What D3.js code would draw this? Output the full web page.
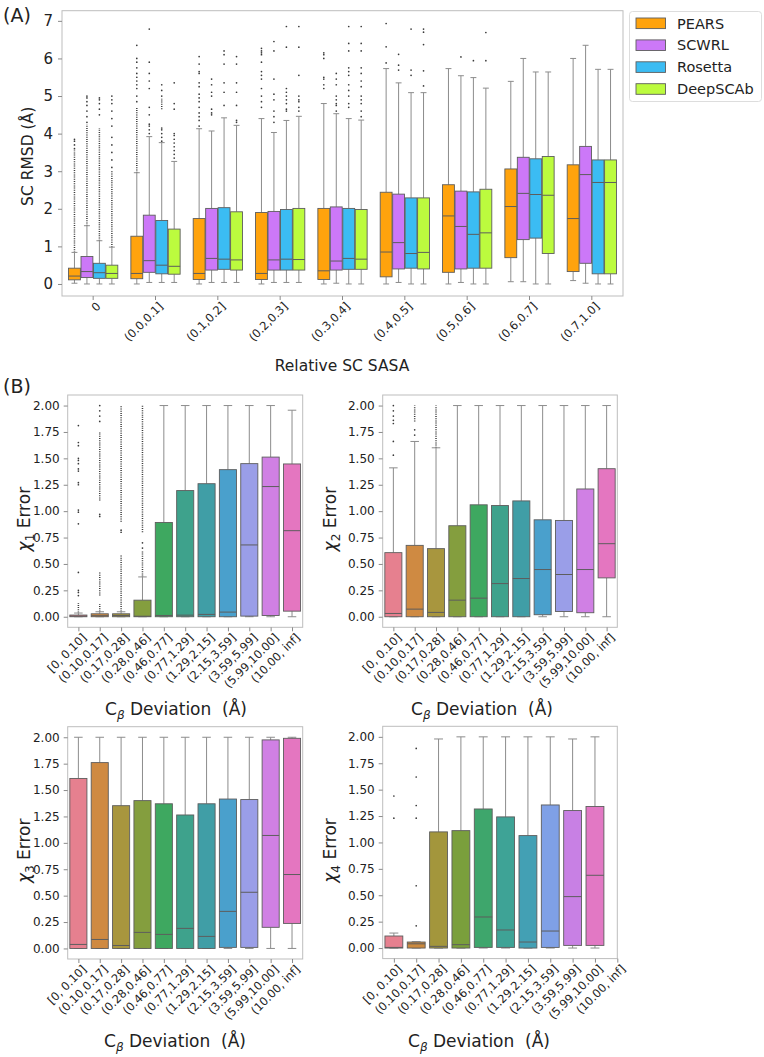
<!DOCTYPE html>
<html><head><meta charset="utf-8">
<script src="https://cdn.jsdelivr.net/npm/d3@7"></script>
<style>
body{margin:0;background:#fff;}
svg{font-family:"DejaVu Sans",sans-serif;}
text{white-space:pre;}
</style></head>
<body><svg id="c" width="764" height="1057"></svg>
<script>
// ---------------- Panel A data ----------------
const sasaCats = ["0","(0.0,0.1]","(0.1,0.2]","(0.2,0.3]","(0.3,0.4]","(0.4,0.5]","(0.5,0.6]","(0.6,0.7]","(0.7,1.0]"];
const methods = ["PEARS","SCWRL","Rosetta","DeepSCAb"];
const methodColors = ["#ffa30d","#cc78f8","#3bbcf3","#bcfb3e"];
const yTicksA = [0,1,2,3,4,5,6,7];
// [lowWhisker, q1, median, q3, highWhisker]
const pearsStats = [[0.02,0.11,0.21,0.42,0.84],[0,0.14,0.28,1.27,2.96],[0,0.12,0.28,1.74,4.13],[0,0.12,0.28,1.90,4.40],[0,0.12,0.35,2.01,4.80],[0,0.19,0.85,2.44,5.73],[0,0.31,1.81,2.64,5.73],[0.06,0.70,2.06,3.06,5.39],[0.09,0.33,1.74,3.17,6.00]];
const scwrlStats = [[0,0.17,0.33,0.73,1.55],[0.04,0.31,0.62,1.83,3.92],[0.04,0.37,0.68,2.01,4.07],[0.04,0.37,0.64,1.93,4.03],[0.02,0.37,0.61,2.05,4.53],[0.04,0.40,1.10,2.39,5.35],[0.04,0.40,1.53,2.47,5.54],[0.06,1.18,2.41,3.37,6.00],[0.02,0.55,2.91,3.66,6.35]];
const rosettaStats = [[0,0.15,0.30,0.55,1.15],[0.04,0.27,0.50,1.69,3.76],[0.04,0.39,0.66,2.03,4.42],[0.04,0.37,0.66,1.98,4.35],[0,0.39,0.68,2.01,4.40],[0,0.42,0.81,2.29,5.09],[0,0.42,1.32,2.45,5.49],[0,1.22,2.38,3.33,5.64],[0,0.27,2.70,3.30,5.71]];
const deepscabStats = [[0,0.15,0.28,0.50,0.98],[0.04,0.26,0.47,1.46,3.26],[0.04,0.37,0.64,1.92,4.22],[0.04,0.37,0.65,2.01,4.46],[0,0.39,0.66,1.98,4.36],[0,0.40,0.84,2.29,5.09],[0,0.42,1.36,2.52,5.21],[0,0.81,2.36,3.39,5.64],[0,0.27,2.70,3.30,5.71]];
// individual outliers
const pearsFliers = [[3.6,3.7,3.8,3.85],[4.85,5.0,5.2,5.3,5.4,5.5,5.6,5.75,5.9,6.0,6.35],[4.2,4.35,4.45,4.55,4.7,4.85,4.95,5.05,5.25,5.35,5.6,5.65,5.85,6.05],[4.7,4.85,5.0,5.2,5.45,5.55,5.65,5.9,6.1,6.15,6.2,6.27],[5.2,5.3,5.45,5.5,6.0,6.1,6.15],[5.88,6.31,6.93],[],[],[]];
const scwrlFliers = [[4.3,4.45,4.6,4.75,4.85,4.95,5.0],[4.0,4.1,4.2,4.25,4.5,4.7,5.2,5.4,5.6,5.9,6.78],[4.5,4.55,4.65,5.0,5.1,5.3,5.45],[4.3,4.45,4.6,4.9,5.05,5.45,6.2,6.45],[4.6,4.75,4.8,4.9,5.0,5.3,5.45,5.6],[5.69,5.82,6.11],[6.04],[],[]];
const rosettaFliers = [[4.5,4.65,4.8,4.9,4.95],[3.8,3.9,4.0,4.1,4.15,5.0,5.15,5.3],[4.75,5.1,5.35,5.85,6.1,6.2],[4.6,4.65,4.8,4.9,5.0,5.1,5.2,6.3,6.85],[4.7,4.8,5.0,5.15,5.3,5.55,5.65,5.75,6.2,6.4,6.85],[5.55,5.69,6.78],[5.94],[],[]];
const deepscabFliers = [[3.1,3.3,3.5,3.7,3.9,4.2,4.4,4.6,4.8,4.9,5.0],[3.35,3.45,3.55,3.65,3.75,3.85,3.95,4.0,4.65,4.8,5.35],[4.3,4.35,4.75,5.1,5.35,5.85,6.05],[4.6,4.7,4.85,4.9,5.0,5.55,6.3,6.85],[4.45,4.6,4.8,4.9,5.0,5.25,5.4,5.6,5.75,6.2,6.4,6.85],[5.27,5.67,6.37,6.7,6.78],[5.94,6.69],[],[]];
// dense runs of outliers [from, to]
const pearsDense = [[[0.84,3.55]],[[2.96,4.7]],[],[],[],[],[],[],[]];
const scwrlDense = [[[1.55,4.25]],[],[],[],[],[],[],[],[]];
const rosettaDense = [[[1.15,4.15]],[[4.65,4.95]],[],[],[],[],[],[],[]];
const deepscabDense = [[[0.98,3.0]],[],[],[],[],[],[],[],[]];

// ---------------- Panel B data ----------------
const cbCats = ["[0, 0.10]","(0.10,0.17]","(0.17,0.28]","(0.28,0.46]","(0.46,0.77]","(0.77,1.29]","(1.29,2.15]","(2.15,3.59]","(3.59,5.99]","(5.99,10.00]","(10.00, inf]"];
const yTicksB = [0,0.25,0.5,0.75,1.0,1.25,1.5,1.75,2.0];
const husl11 = ["#e6808f","#cf8a42","#a8963e","#849e3e","#3ea860","#3ea28c","#409ea6","#4aa0cc","#9a9ee8","#d080e4","#e476c0"];
const husl10 = ["#e6808f","#cc8a3e","#a3963c","#7a9f3c","#3ea66c","#3ea396","#43a0b4","#7fa0e6","#c880e4","#e278c4"];
const chi1Stats = [[0,0,0.006,0.016,0.035],[0,0,0.01,0.028,0.047],[0,0,0.012,0.028,0.047],[0,0,0.005,0.157,0.377],[0,0,0.012,0.893,2],[0,0,0.015,1.195,2],[0,0,0.022,1.26,2],[0,0,0.044,1.393,2],[0,0.006,0.68,1.45,2],[0,0.012,1.233,1.512,2],[0,0.053,0.815,1.447,1.956]];
const chi1Fliers = [[0.2,0.23,0.25,0.42,0.88,0.99,1.01,1.25,1.27,1.38,1.4,1.45,1.48,1.5,1.62,1.65,1.81],[0.95,0.97,1.85,1.9,1.95,2.0],[0.8,0.82],[0.65,0.7],[],[],[],[],[],[],[]];
const chi1Dense = [[[0.04,0.13]],[[0.05,0.12],[0.2,0.42],[1.1,1.75]],[[0.05,0.58],[0.9,2.0]],[[0.38,0.62],[0.8,2.0]],[],[],[],[],[],[],[]];
const chi2Stats = [[0,0,0.031,0.607,1.41],[0,0,0.072,0.676,1.66],[0,0,0.041,0.645,1.6],[0,0,0.157,0.862,2],[0,0,0.176,1.06,2],[0,0,0.314,1.053,2],[0,0,0.362,1.097,2],[0,0.019,0.447,0.918,2],[0,0.05,0.4,0.912,2],[0,0.038,0.447,1.21,2],[0,0.368,0.692,1.402,2]];
const chi2Fliers = [[1.53,1.66,1.83,1.86,1.9,1.95,2.0],[1.72,1.77],[],[],[],[],[],[],[],[],[]];
const chi2Dense = [[],[[1.85,2.0]],[[1.6,2.0]],[],[],[],[],[],[],[],[]];
const chi3Stats = [[0,0,0.038,1.61,2],[0,0,0.085,1.76,2],[0,0,0.028,1.352,2],[0,0,0.152,1.40,2],[0,0,0.133,1.37,2],[0,0,0.19,1.264,2],[0,0,0.114,1.37,2],[0,0.01,0.351,1.415,2],[0,0.01,0.532,1.41,2],[0,0.2,1.07,1.975,2],[0,0.237,0.70,1.99,2]];
const chi4Stats = [[0,0,0.006,0.114,0.142],[0,0,0.04,0.057,0.06],[0,0,0.016,1.10,1.98],[0,0,0.032,1.112,2],[0,0.006,0.294,1.317,2],[0,0.006,0.171,1.242,2],[0,0,0.057,1.065,2],[0,0.006,0.161,1.355,2],[0,0.025,0.487,1.302,1.98],[0,0.025,0.689,1.34,2]];
const chi4Fliers = [[1.23,1.44],[0.21,0.59,1.23,1.35,1.62,1.89],[],[],[],[],[],[],[],[]];

// ---------------- drawing ----------------
const svg = d3.select("#c");
const FRAME = "#bdbdbd", TICK = "#8a8a8a", EDGE = "#5d5d5d", WHISK = "#8c8c8c", FLIER = "#3a3a3a";

function drawBox(g, cx, w, s, color, y) {
  const [lo, q1, med, q3, hi] = s;
  g.append("line").attr("x1", cx).attr("x2", cx).attr("y1", y(q3)).attr("y2", y(hi)).attr("stroke", WHISK).attr("stroke-width", 1);
  g.append("line").attr("x1", cx).attr("x2", cx).attr("y1", y(q1)).attr("y2", y(lo)).attr("stroke", WHISK).attr("stroke-width", 1);
  g.append("line").attr("x1", cx - w/4).attr("x2", cx + w/4).attr("y1", y(hi)).attr("y2", y(hi)).attr("stroke", WHISK).attr("stroke-width", 1);
  g.append("line").attr("x1", cx - w/4).attr("x2", cx + w/4).attr("y1", y(lo)).attr("y2", y(lo)).attr("stroke", WHISK).attr("stroke-width", 1);
  g.append("rect").attr("x", cx - w/2).attr("width", w).attr("y", y(q3)).attr("height", Math.max(0.8, y(q1) - y(q3)))
    .attr("fill", color).attr("stroke", EDGE).attr("stroke-width", 0.9);
  g.append("line").attr("x1", cx - w/2).attr("x2", cx + w/2).attr("y1", y(med)).attr("y2", y(med)).attr("stroke", EDGE).attr("stroke-width", 1);
}
function drawFliers(g, cx, vals, dense, y) {
  (vals || []).forEach(v => g.append("circle").attr("cx", cx).attr("cy", y(v)).attr("r", 0.85).attr("fill", FLIER));
  (dense || []).forEach(([a, b]) => g.append("line").attr("x1", cx).attr("x2", cx).attr("y1", y(a)).attr("y2", y(b))
    .attr("stroke", FLIER).attr("stroke-width", 1.5).attr("stroke-dasharray", "1,1.2"));
}

// ---- Panel A ----
const A = {l: 62, r: 623, t: 10.7, b: 296};
const xA = d3.scaleBand().domain(sasaCats).range([A.l, A.r]);
const xM = d3.scaleBand().domain(methods).range([0.1 * xA.bandwidth(), 0.9 * xA.bandwidth()]);
const yA = d3.scaleLinear().domain([-0.32, 7.27]).range([A.b, A.t]);
const gA = svg.append("g");
gA.append("rect").attr("x", A.l).attr("y", A.t).attr("width", A.r - A.l).attr("height", A.b - A.t).attr("fill", "none").attr("stroke", FRAME);
const ayA = gA.append("g").attr("transform", `translate(${A.l},0)`).call(d3.axisLeft(yA).tickValues(yTicksA).tickSize(4).tickPadding(5).tickFormat(d3.format("d")));
ayA.select(".domain").remove();
ayA.selectAll("line").attr("stroke", TICK);
ayA.selectAll("text").attr("font-size", 15).attr("fill", "#222").attr("font-family", "DejaVu Sans");
const axA = gA.append("g").attr("transform", `translate(0,${A.b})`).call(d3.axisBottom(xA).tickSize(4).tickPadding(3));
axA.select(".domain").remove();
axA.selectAll("line").attr("stroke", TICK);
axA.selectAll("text").attr("font-size", 11.5).attr("fill", "#222").attr("font-family", "DejaVu Sans")
  .attr("text-anchor", "end").attr("transform", "translate(4,4) rotate(-45)").attr("dy", "0.35em").attr("y", 4).attr("x", -2);
const statsA = [pearsStats, scwrlStats, rosettaStats, deepscabStats];
const fliersA = [pearsFliers, scwrlFliers, rosettaFliers, deepscabFliers];
const denseA = [pearsDense, scwrlDense, rosettaDense, deepscabDense];
methods.forEach((m, mi) => {
  sasaCats.forEach((c, ci) => {
    const cx = xA(c) + xM(m) + xM.bandwidth() / 2;
    drawFliers(gA, cx, fliersA[mi][ci], denseA[mi][ci], yA);
    drawBox(gA, cx, xM.bandwidth() - 0.6, statsA[mi][ci], methodColors[mi], yA);
  });
});
gA.append("text").attr("x", 342).attr("y", 371).attr("text-anchor", "middle").attr("font-size", 15.5).attr("fill", "#222").text("Relative SC SASA");
gA.append("text").attr("transform", `translate(33,${(A.t + A.b) / 2 + 3}) rotate(-90)`).attr("text-anchor", "middle").attr("font-size", 15.5).attr("fill", "#222").text("SC RMSD (Å)");
svg.append("text").attr("x", 3).attr("y", 22).attr("font-size", 19).attr("fill", "#222").text("(A)");
svg.append("text").attr("x", 3).attr("y", 393).attr("font-size", 19).attr("fill", "#222").text("(B)");

// legend
const lg = svg.append("g");
lg.append("rect").attr("x", 629.5).attr("y", 11.5).attr("width", 132).attr("height", 90).attr("rx", 3).attr("fill", "#fff").attr("stroke", "#dddddd");
methods.forEach((m, i) => {
  const yy = 23.3 + i * 21.9;
  lg.append("rect").attr("x", 636).attr("y", yy - 5.3).attr("width", 29.5).attr("height", 10.6).attr("fill", methodColors[i]).attr("stroke", EDGE).attr("stroke-width", 0.9);
  lg.append("text").attr("x", 677).attr("y", yy).attr("dy", "0.36em").attr("font-size", 14.5).attr("fill", "#222").text(m);
});

// ---- Panel B ----
function subplot(cfg) {
  const {l, t, w, h, stats, fliers, dense, colors, xmax, sub, titleX, ylabX} = cfg;
  const g = svg.append("g");
  const x = d3.scaleLinear().domain([-0.5, xmax]).range([l, l + w]);
  const y = d3.scaleLinear().domain([-0.1, 2.1]).range([t + h, t]);
  g.append("rect").attr("x", l).attr("y", t).attr("width", w).attr("height", h).attr("fill", "none").attr("stroke", FRAME);
  const ay = g.append("g").attr("transform", `translate(${l},0)`).call(d3.axisLeft(y).tickValues(yTicksB).tickSize(4).tickPadding(4).tickFormat(d3.format(".2f")));
  ay.select(".domain").remove();
  ay.selectAll("line").attr("stroke", TICK);
  ay.selectAll("text").attr("font-size", 12).attr("fill", "#222").attr("font-family", "DejaVu Sans");
  const idx = cbCats.map((c, i) => i);
  const ax = g.append("g").attr("transform", `translate(0,${t + h})`).call(d3.axisBottom(x).tickValues(idx).tickSize(4).tickPadding(3).tickFormat(i => cbCats[i]));
  ax.select(".domain").remove();
  ax.selectAll("line").attr("stroke", TICK);
  ax.selectAll("text").attr("font-size", 11.5).attr("fill", "#222").attr("font-family", "DejaVu Sans")
    .attr("text-anchor", "end").attr("transform", "translate(4,4) rotate(-45)").attr("dy", "0.35em").attr("y", 4).attr("x", -2);
  const bw = (x(1) - x(0)) * 0.8;
  stats.forEach((s, i) => {
    const cx = x(i);
    drawFliers(g, cx, fliers ? fliers[i] : [], dense ? dense[i] : [], y);
    drawBox(g, cx, bw, s, colors[i], y);
  });
  const tt = g.append("text").attr("x", titleX).attr("y", t + h + 88).attr("text-anchor", "middle").attr("font-size", 17).attr("fill", "#222");
  tt.append("tspan").text("C");
  tt.append("tspan").attr("font-size", 12).attr("font-style", "italic").attr("dy", 4).text("β");
  tt.append("tspan").attr("dy", -4).text(" Deviation  (Å)");
  const yl = g.append("text").attr("transform", `translate(${ylabX},${t + h / 2 + 8}) rotate(-90)`).attr("text-anchor", "middle").attr("font-size", 17).attr("fill", "#222");
  yl.append("tspan").attr("font-style", "italic").text("χ");
  yl.append("tspan").attr("font-size", 12).attr("dy", 4).text(sub);
  yl.append("tspan").attr("dy", -4).text(" Error");
}
subplot({l: 67.7, t: 395, w: 235, h: 232.3, stats: chi1Stats, fliers: chi1Fliers, dense: chi1Dense, colors: husl11, xmax: 10.5, sub: "1", titleX: 176, ylabX: 30});
subplot({l: 382.7, t: 395, w: 234.6, h: 232.3, stats: chi2Stats, fliers: chi2Fliers, dense: chi2Dense, colors: husl11, xmax: 10.5, sub: "2", titleX: 482, ylabX: 336});
subplot({l: 67.7, t: 726.7, w: 235, h: 232.3, stats: chi3Stats, fliers: null, dense: null, colors: husl11, xmax: 10.5, sub: "3", titleX: 175, ylabX: 30});
subplot({l: 382.7, t: 726.3, w: 234.6, h: 232.3, stats: chi4Stats, fliers: chi4Fliers, dense: null, colors: husl10, xmax: 10, sub: "4", titleX: 479, ylabX: 336});
</script></body></html>
